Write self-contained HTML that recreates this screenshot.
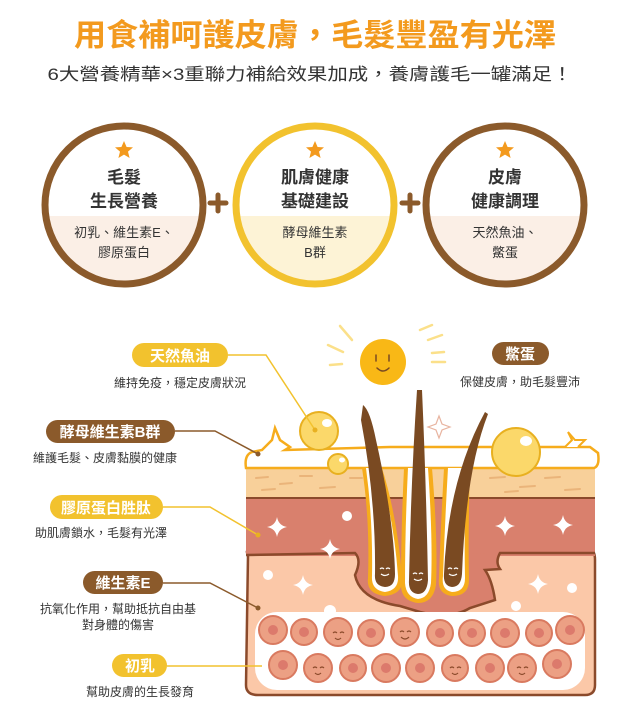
<!DOCTYPE html>
<html><head><meta charset="utf-8"><style>
html,body{margin:0;padding:0;background:#fff;}
svg{display:block;}
text{font-family:"Liberation Sans","Noto Sans CJK TC",sans-serif;}
</style></head><body>
<svg width="630" height="710" viewBox="0 0 630 710" xmlns="http://www.w3.org/2000/svg">
<defs>
<clipPath id="c1"><circle cx="124" cy="205" r="78"/></clipPath>
<clipPath id="c2"><circle cx="315" cy="205" r="78"/></clipPath>
<clipPath id="c3"><circle cx="505" cy="205" r="78"/></clipPath>
<g id="star"><path d="M0,-9 L2.6,-3 L9,-2.6 L4,1.6 L5.6,8 L0,4.6 L-5.6,8 L-4,1.6 L-9,-2.6 L-2.6,-3 Z" fill="#f39a1e"/></g>
<g id="spark"><path d="M0,-10 Q1.5,-1.5 10,0 Q1.5,1.5 0,10 Q-1.5,1.5 -10,0 Q-1.5,-1.5 0,-10Z" fill="#fff"/></g>
</defs>
<text x="315" y="46" text-anchor="middle" font-size="31" font-weight="bold" fill="#f39a1e" textLength="482" lengthAdjust="spacingAndGlyphs">用食補呵護皮膚，毛髮豐盈有光澤</text>
<text x="310" y="80" text-anchor="middle" font-size="17" fill="#333" textLength="525" lengthAdjust="spacingAndGlyphs">6大營養精華×3重聯力補給效果加成，養膚護毛一罐滿足！</text>

<g clip-path="url(#c1)"><rect x="40" y="120" width="170" height="170" fill="#fff"/><rect x="40" y="216" width="170" height="80" fill="#fbefe6"/></g>
<circle cx="124" cy="205" r="79" fill="none" stroke="#8b5a2b" stroke-width="7"/>
<g clip-path="url(#c2)"><rect x="230" y="120" width="170" height="170" fill="#fff"/><rect x="230" y="216" width="170" height="80" fill="#fdf3d6"/></g>
<circle cx="315" cy="205" r="79" fill="none" stroke="#f2c22e" stroke-width="7"/>
<g clip-path="url(#c3)"><rect x="420" y="120" width="170" height="170" fill="#fff"/><rect x="420" y="216" width="170" height="80" fill="#fbefe6"/></g>
<circle cx="505" cy="205" r="79" fill="none" stroke="#8b5a2b" stroke-width="7"/>
<use href="#star" x="124" y="150"/><use href="#star" x="315" y="150"/><use href="#star" x="505" y="150"/>
<g font-size="17" font-weight="bold" fill="#333" text-anchor="middle">
<text x="124" y="183">毛髮</text><text x="124" y="207">生長營養</text>
<text x="315" y="183">肌膚健康</text><text x="315" y="207">基礎建設</text>
<text x="505" y="183">皮膚</text><text x="505" y="207">健康調理</text>
</g>
<g font-size="13" fill="#333" text-anchor="middle">
<text x="124" y="237">初乳、維生素E、</text><text x="124" y="257">膠原蛋白</text>
<text x="315" y="237">酵母維生素</text><text x="315" y="257">B群</text>
<text x="505" y="237">天然魚油、</text><text x="505" y="257">鱉蛋</text>
</g>
<g stroke="#8b5a2b" stroke-width="5" stroke-linecap="round">
<line x1="210" y1="203" x2="226" y2="203"/><line x1="218" y1="195" x2="218" y2="211"/>
<line x1="402" y1="203" x2="418" y2="203"/><line x1="410" y1="195" x2="410" y2="211"/>
</g>

<path d="M248,555 Q245,550 250,550 L590,550 Q595,550 595,560 L595,685 Q595,695 585,695 L258,695 Q246,695 246,685 Z" fill="#fbc8a8" stroke="#8b4a2b" stroke-width="2.5"/>
<rect x="246" y="498" width="349" height="58" fill="#d9806d"/>
<path d="M246,555 L355,553 Q362,560 355,575 Q360,600 400,606 L420,612 Q450,620 470,608 L495,600 Q492,580 485,570 L500,569 Q495,562 500,553 L595,553" fill="#d9806d" stroke="#8b4a2b" stroke-width="2.5"/>
<rect x="246" y="468" width="349" height="31" fill="#f8d09a"/>
<line x1="246" y1="498" x2="595" y2="498" stroke="#8b4a2b" stroke-width="2"/>
<g stroke="#eab47a" stroke-width="2" stroke-linecap="round">
<line x1="256" y1="478" x2="268" y2="477"/><line x1="280" y1="484" x2="292" y2="483"/><line x1="262" y1="490" x2="275" y2="489"/>
<line x1="300" y1="476" x2="312" y2="476"/><line x1="320" y1="488" x2="335" y2="487"/><line x1="350" y1="478" x2="362" y2="478"/>
<line x1="490" y1="478" x2="505" y2="477"/><line x1="520" y1="487" x2="535" y2="486"/><line x1="545" y1="478" x2="560" y2="477"/><line x1="565" y1="490" x2="580" y2="489"/><line x1="505" y1="492" x2="518" y2="491"/>
</g>
<path d="M246,468 Q244,455 252,452 L262,450 L272,440 L275,428 L280,440 L290,447 L285,450 L390,447 L590,447 L598,453 Q600,466 594,468 Z" fill="#fff" stroke="#f6ac1c" stroke-width="2.5"/>
<path d="M565,447 L572,440 L568,432 L575,440 L585,440 L578,447" fill="#fff" stroke="#f6ac1c" stroke-width="2"/>
<rect x="255" y="612" width="330" height="78" rx="22" fill="#fff"/>
<g fill="#eca084" stroke="#d97a60" stroke-width="2">
<circle cx="273" cy="630" r="14"/><circle cx="304" cy="632" r="13"/><circle cx="338" cy="632" r="14"/><circle cx="371" cy="633" r="13"/><circle cx="405" cy="632" r="14"/><circle cx="440" cy="633" r="13"/><circle cx="472" cy="633" r="13"/><circle cx="505" cy="633" r="14"/><circle cx="539" cy="633" r="13"/><circle cx="570" cy="630" r="14"/>
<circle cx="283" cy="665" r="14"/><circle cx="318" cy="668" r="14"/><circle cx="353" cy="668" r="13"/><circle cx="386" cy="668" r="14"/><circle cx="420" cy="668" r="14"/><circle cx="455" cy="668" r="13"/><circle cx="490" cy="668" r="14"/><circle cx="522" cy="668" r="14"/><circle cx="557" cy="664" r="14"/>
</g>
<g fill="#dc7a6c">
<circle cx="273" cy="630" r="5"/><circle cx="304" cy="632" r="5"/><circle cx="371" cy="633" r="5"/><circle cx="440" cy="633" r="5"/><circle cx="472" cy="633" r="5"/><circle cx="505" cy="633" r="5"/><circle cx="539" cy="633" r="5"/><circle cx="570" cy="630" r="5"/>
<circle cx="283" cy="665" r="5"/><circle cx="353" cy="668" r="5"/><circle cx="386" cy="668" r="5"/><circle cx="420" cy="668" r="5"/><circle cx="490" cy="668" r="5"/><circle cx="557" cy="664" r="5"/>
</g>
<g fill="none" stroke="#8b4a2b" stroke-width="1.2">
<path d="M333,633 q2,-2 4,0 M340,633 q2,-2 4,0 M335,638 q3,3 6,0"/><path d="M400,632 q2,-2 4,0 M407,632 q2,-2 4,0 M401,637 q4,4 8,0"/>
<path d="M313,668 q2,-2 4,0 M320,668 q2,-2 4,0 M315,673 q3,3 6,0"/><path d="M450,668 q2,-2 4,0 M457,668 q2,-2 4,0 M452,673 q3,3 6,0"/><path d="M517,668 q2,-2 4,0 M524,668 q2,-2 4,0 M519,673 q3,3 6,0"/>
</g>
<g fill="#f6ac1c"><path d="M362,468 L382,468 Q398,520 402,578 Q404,594 385,596 Q366,594 368,578 Q370,520 362,468Z"/>
<path d="M404,468 L432,468 Q438,540 436,585 Q433,603 418,603 Q401,601 401,585 Q401,530 404,468Z"/>
<path d="M444,468 L470,468 Q468,530 469,580 Q469,596 452,596 Q437,594 439,578 Q441,520 444,468Z"/></g>
<g fill="#fff"><path d="M366,468 L379,468 Q394,520 398,576 Q399,590 385,592 Q371,590 372,576 Q373,520 366,468Z"/>
<path d="M408,468 L428,468 Q433,540 431,583 Q429,598 418,599 Q406,597 405,583 Q405,530 408,468Z"/>
<path d="M448,468 L466,468 Q464,530 465,578 Q465,592 452,592 Q441,590 443,576 Q445,520 448,468Z"/></g>
<g fill="#7a4a22"><path d="M363,405 Q370,410 376,440 Q394,520 395,574 Q395,587 385,587 Q374,586 375,574 Q376,500 361,420Z"/>
<path d="M417,390 L422,390 Q426,480 428,580 Q427,594 418,594 Q408,593 409,580 Q411,480 417,390Z"/>
<path d="M485,412 L488,414 Q466,470 462,574 Q461,587 452,587 Q443,586 444,574 Q448,480 485,412Z"/></g>
<g fill="none" stroke="#fff" stroke-width="1.2"><path d="M380,569 q2,-2 4,0 M386,569 q2,-2 4,0 M381,574 q4,3 8,0"/><path d="M413,574 q2,-2 4,0 M419,574 q2,-2 4,0 M414,579 q4,3 8,0"/><path d="M448,569 q2,-2 4,0 M454,569 q2,-2 4,0 M449,574 q4,3 8,0"/></g>
<use href="#spark" x="277" y="527"/>
<use href="#spark" x="330" y="549"/><use href="#spark" x="563" y="525"/><use href="#spark" x="505" y="526"/>
<use href="#spark" x="538" y="584"/><use href="#spark" x="303" y="585"/>
<circle cx="347" cy="516" r="5" fill="#fff"/><circle cx="268" cy="575" r="5" fill="#fff"/><circle cx="572" cy="588" r="5" fill="#fff"/><circle cx="516" cy="606" r="5" fill="#fff"/><circle cx="330" cy="611" r="6" fill="#fff"/>
<path d="M439,416 l3,8 l8,3 l-8,3 l-3,8 l-3,-8 l-8,-3 l8,-3z" fill="#fff" stroke="#e8b4a0" stroke-width="1.2"/>
<g fill="#fbd86a" stroke="#e8b020" stroke-width="2"><circle cx="319" cy="431" r="19"/><circle cx="338" cy="464" r="10"/><circle cx="516" cy="452" r="24"/></g>
<g fill="#fff"><ellipse cx="327" cy="423" rx="5" ry="4"/><ellipse cx="342" cy="460" rx="3" ry="2.5"/><ellipse cx="526" cy="441" rx="6" ry="5"/></g>
<circle cx="383" cy="362" r="23" fill="#f9b816"/>
<g fill="none" stroke="#7a4a22" stroke-width="1.5" stroke-linecap="round"><path d="M376,355 v6 M389,355 v6 M377,368 q6,6 12,0"/></g>
<g stroke="#fbe08a" stroke-width="2.5" stroke-linecap="round"><line x1="340" y1="326" x2="352" y2="340"/><line x1="328" y1="345" x2="343" y2="352"/><line x1="330" y1="365" x2="342" y2="364"/><line x1="420" y1="330" x2="432" y2="325"/><line x1="428" y1="340" x2="442" y2="335"/><line x1="432" y1="353" x2="444" y2="352"/><line x1="432" y1="362" x2="445" y2="362"/></g>
<g fill="none" stroke-width="1.5">
<polyline points="228,355 266,355 315,430" stroke="#f2c22e"/>
<polyline points="175,431 215,431 258,454" stroke="#8b5a2b"/>
<polyline points="163,507 210,507 258,535" stroke="#f2c22e"/>
<polyline points="163,583 210,583 258,608" stroke="#8b5a2b"/>
<polyline points="167,666 262,666" stroke="#f2c22e"/>
</g>
<circle cx="315" cy="430" r="2.5" fill="#e8b020"/><circle cx="258" cy="454" r="2.5" fill="#8b5a2b"/><circle cx="258" cy="535" r="2.5" fill="#e8b020"/><circle cx="258" cy="608" r="2.5" fill="#8b5a2b"/>
<rect x="132" y="343" width="96" height="24" rx="12" fill="#f2c22e"/>
<rect x="46" y="420" width="129" height="23" rx="11.5" fill="#8b5a2b"/>
<rect x="50" y="495" width="113" height="24" rx="12" fill="#f2c22e"/>
<rect x="83" y="571" width="80" height="23" rx="11.5" fill="#8b5a2b"/>
<rect x="112" y="654" width="55" height="23" rx="11.5" fill="#f2c22e"/>
<rect x="492" y="342" width="57" height="23" rx="11.5" fill="#8b5a2b"/>
<g font-size="15" font-weight="bold" fill="#fff" text-anchor="middle">
<text x="180" y="361">天然魚油</text><text x="110" y="437">酵母維生素B群</text><text x="106" y="513">膠原蛋白胜肽</text><text x="123" y="588">維生素E</text><text x="140" y="671">初乳</text><text x="520" y="359">鱉蛋</text>
</g>
<g font-size="12" fill="#333">
<text x="180" y="387" text-anchor="middle">維持免疫，穩定皮膚狀況</text>
<text x="33" y="462">維護毛髮、皮膚黏膜的健康</text>
<text x="35" y="537">助肌膚鎖水，毛髮有光澤</text>
<text x="118" y="613" text-anchor="middle">抗氧化作用，幫助抵抗自由基</text>
<text x="118" y="629" text-anchor="middle">對身體的傷害</text>
<text x="140" y="696" text-anchor="middle">幫助皮膚的生長發育</text>
<text x="520" y="386" text-anchor="middle">保健皮膚，助毛髮豐沛</text>
</g>
</svg>
</body></html>
